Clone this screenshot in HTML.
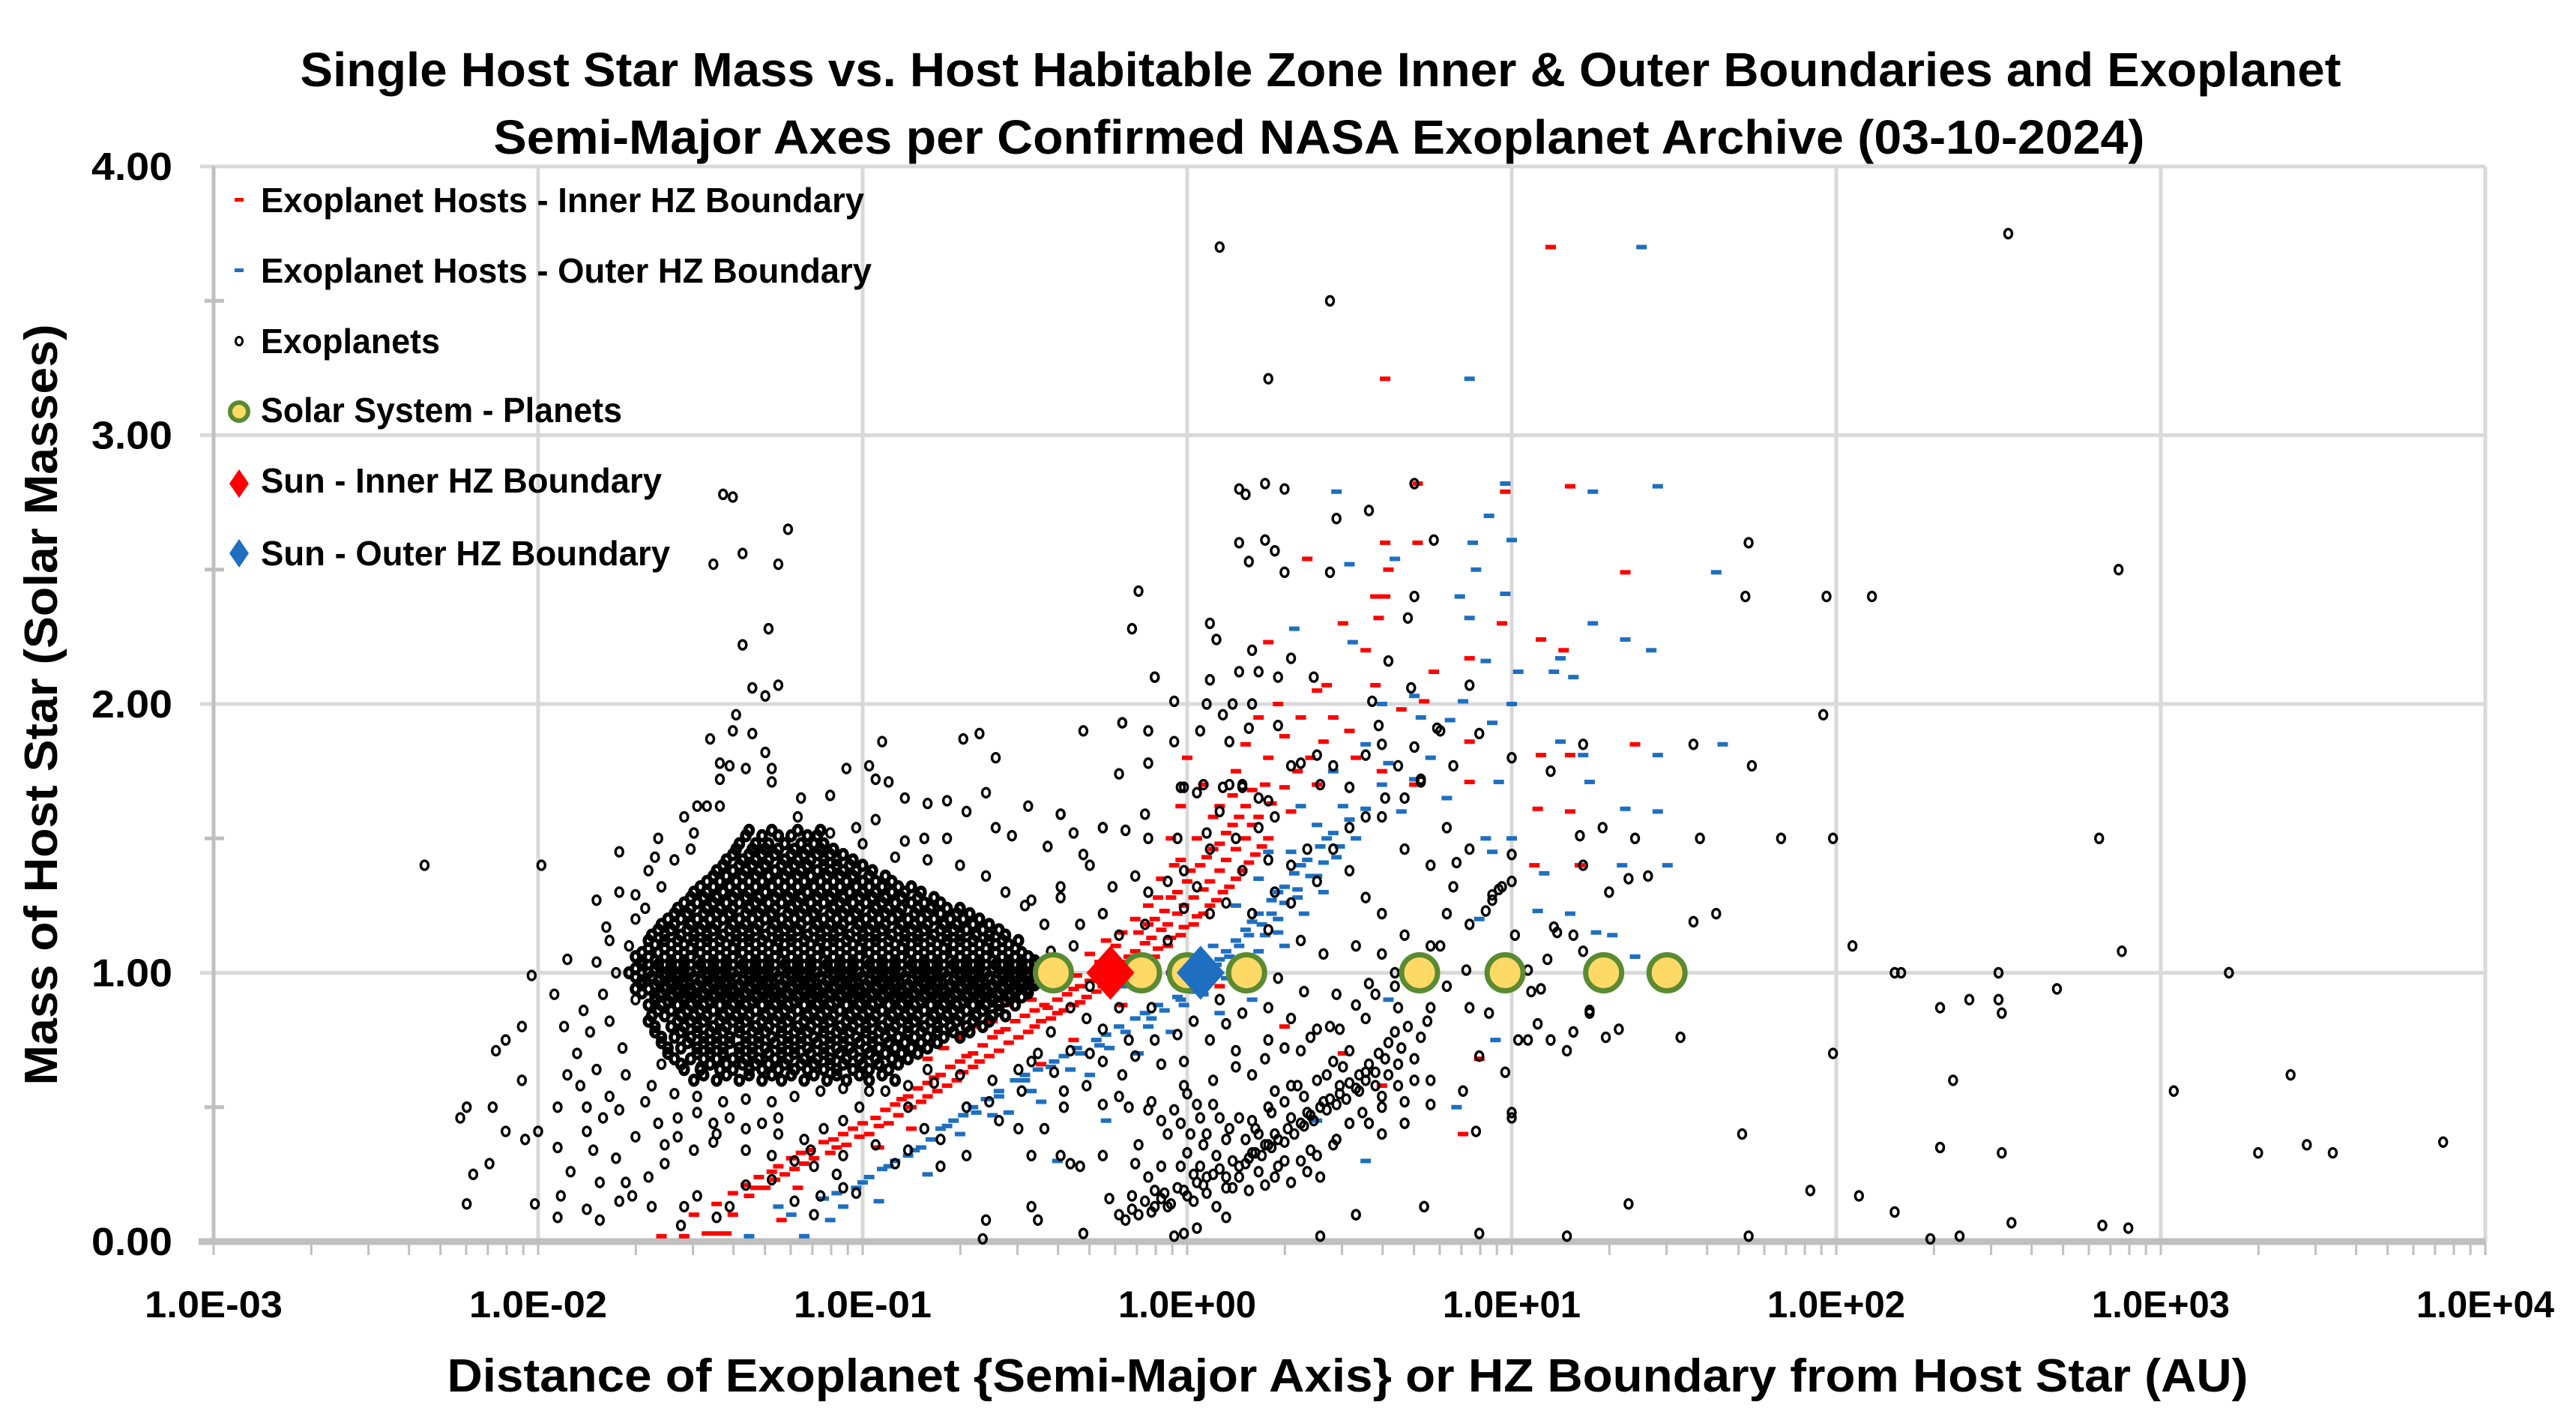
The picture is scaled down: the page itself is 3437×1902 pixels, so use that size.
<!DOCTYPE html>
<html><head><meta charset="utf-8"><style>
html,body{margin:0;padding:0;background:#fff;width:3437px;height:1902px;overflow:hidden}
svg text{font-family:"Liberation Sans",sans-serif;font-weight:bold;fill:#000}
</style></head><body>
<svg id="chart" width="3437" height="1902" viewBox="0 0 3437 1902" xmlns="http://www.w3.org/2000/svg">
<rect width="3437" height="1902" fill="#fff"/>
<g id="grid"></g>
<g id="axes"></g>
<g id="hzInner"></g>
<g id="hzOuter"></g>
<g id="exo"></g>
<g id="solar"></g>
<g id="labels"></g>
<text x="1762" y="115" font-size="64" text-anchor="middle" textLength="2723" lengthAdjust="spacingAndGlyphs">Single Host Star Mass vs. Host Habitable Zone Inner &amp; Outer Boundaries and Exoplanet</text>
<text x="1760" y="205" font-size="64" text-anchor="middle" textLength="2203" lengthAdjust="spacingAndGlyphs">Semi-Major Axes per Confirmed NASA Exoplanet Archive (03-10-2024)</text>
<text x="1798" y="1856" font-size="62" text-anchor="middle" textLength="2403" lengthAdjust="spacingAndGlyphs">Distance of Exoplanet {Semi-Major Axis} or HZ Boundary from Host Star (AU)</text>
<text transform="translate(76,940) rotate(-90)" font-size="62" text-anchor="middle" textLength="1015" lengthAdjust="spacingAndGlyphs">Mass of Host Star (Solar Masses)</text>
<g id="legend">
  <g>
    <rect x="313" y="264" width="12" height="5" fill="#ff0000"/>
    <text x="348" y="283" font-size="46" textLength="805" lengthAdjust="spacingAndGlyphs">Exoplanet Hosts - Inner HZ Boundary</text>
  </g>
  <g>
    <rect x="313" y="358" width="12" height="5" fill="#1f6fc0"/>
    <text x="348" y="377" font-size="46" textLength="815" lengthAdjust="spacingAndGlyphs">Exoplanet Hosts - Outer HZ Boundary</text>
  </g>
  <g>
    <ellipse cx="319" cy="455" rx="4.5" ry="5.5" fill="none" stroke="#000" stroke-width="3"/>
    <text x="348" y="471" font-size="46" textLength="239" lengthAdjust="spacingAndGlyphs">Exoplanets</text>
  </g>
  <g>
    <circle cx="319" cy="549" r="12" fill="#ffd966" stroke="#5a8a32" stroke-width="6"/>
    <text x="348" y="563" font-size="46" textLength="482" lengthAdjust="spacingAndGlyphs">Solar System - Planets</text>
  </g>
  <g>
    <polygon points="319,626 332,645 319,664 306,645" fill="#ff0000"/>
    <text x="348" y="657" font-size="46" textLength="535" lengthAdjust="spacingAndGlyphs">Sun - Inner HZ Boundary</text>
  </g>
  <g>
    <polygon points="319,719 332,738 319,757 306,738" fill="#1f6fc0"/>
    <text x="348" y="754" font-size="46" textLength="546" lengthAdjust="spacingAndGlyphs">Sun - Outer HZ Boundary</text>
  </g>
</g>
</svg>
<script>
// ---- data (x values are log10 of AU) ----
const xTickLabels = ["1.0E-03","1.0E-02","1.0E-01","1.0E+00","1.0E+01","1.0E+02","1.0E+03","1.0E+04"];
const xTickLogs = [-3,-2,-1,0,1,2,3,4];
const yTickLabels = ["0.00","1.00","2.00","3.00","4.00"];
const yTickValues = [0,1,2,3,4];
const solarPlanetNames = ["Mercury","Venus","Earth","Mars","Jupiter","Saturn","Uranus","Neptune"];
const solarPlanetAU = [0.387,0.723,1.0,1.524,5.2,9.54,19.2,30.1];
const solarPlanetMass = [1,1,1,1,1,1,1,1];
const sunInnerHZ = [0.58,1];
const sunOuterHZ = [1.1,1];
const exoplanetCoreRows = [
"0.60:-1.52 -1.45 -1.38 -1.31 -1.25 -1.18 -1.11 -1.05 -0.98 -0.90",
"0.64:-1.55 -1.50 -1.44 -1.40 -1.35 -1.31 -1.26 -1.21 -1.17 -1.12 -1.08 -1.03 -0.98 -0.92",
"0.68:-1.58 -1.53 -1.49 -1.45 -1.40 -1.36 -1.32 -1.27 -1.23 -1.18 -1.14 -1.10 -1.05 -1.01 -0.96 -0.91 -0.86",
"0.72:-1.60 -1.56 -1.51 -1.47 -1.43 -1.38 -1.34 -1.30 -1.25 -1.21 -1.17 -1.12 -1.08 -1.04 -0.99 -0.95 -0.90 -0.85 -0.80",
"0.76:-1.62 -1.58 -1.53 -1.49 -1.45 -1.41 -1.36 -1.32 -1.28 -1.23 -1.19 -1.15 -1.10 -1.06 -1.02 -0.97 -0.93 -0.89 -0.84 -0.80 -0.75 -0.70",
"0.80:-1.64 -1.59 -1.55 -1.51 -1.46 -1.42 -1.38 -1.33 -1.29 -1.25 -1.20 -1.16 -1.12 -1.07 -1.03 -0.99 -0.94 -0.90 -0.86 -0.81 -0.77 -0.73 -0.68 -0.63",
"0.84:-1.65 -1.61 -1.56 -1.52 -1.48 -1.43 -1.39 -1.35 -1.30 -1.26 -1.22 -1.17 -1.13 -1.09 -1.04 -1.00 -0.96 -0.91 -0.87 -0.83 -0.78 -0.74 -0.70 -0.65 -0.60 -0.56",
"0.88:-1.66 -1.62 -1.57 -1.53 -1.49 -1.44 -1.40 -1.36 -1.31 -1.27 -1.23 -1.18 -1.14 -1.10 -1.05 -1.01 -0.97 -0.92 -0.88 -0.84 -0.79 -0.75 -0.71 -0.66 -0.62 -0.58 -0.53",
"0.91:-1.64 -1.59 -1.55 -1.51 -1.46 -1.42 -1.38 -1.33 -1.29 -1.25 -1.20 -1.16 -1.12 -1.07 -1.03 -0.99 -0.94 -0.90 -0.86 -0.81 -0.77 -0.73 -0.68 -0.64 -0.60 -0.55 -0.51",
"0.94:-1.70 -1.66 -1.61 -1.57 -1.53 -1.48 -1.44 -1.40 -1.35 -1.31 -1.27 -1.22 -1.18 -1.14 -1.09 -1.05 -1.01 -0.96 -0.92 -0.88 -0.83 -0.79 -0.75 -0.70 -0.66 -0.62 -0.57 -0.53 -0.49",
"0.97:-1.68 -1.63 -1.59 -1.55 -1.50 -1.46 -1.42 -1.37 -1.33 -1.29 -1.24 -1.20 -1.16 -1.11 -1.07 -1.03 -0.98 -0.94 -0.90 -0.85 -0.81 -0.77 -0.72 -0.68 -0.64 -0.59 -0.55 -0.51 -0.47",
"1.00:-1.72 -1.66 -1.61 -1.57 -1.53 -1.48 -1.44 -1.40 -1.35 -1.31 -1.27 -1.22 -1.18 -1.14 -1.09 -1.05 -1.01 -0.96 -0.92 -0.88 -0.83 -0.79 -0.75 -0.70 -0.66 -0.62 -0.57 -0.53 -0.49 -0.45",
"1.03:-1.68 -1.63 -1.59 -1.55 -1.50 -1.46 -1.42 -1.37 -1.33 -1.29 -1.24 -1.20 -1.16 -1.11 -1.07 -1.03 -0.98 -0.94 -0.90 -0.85 -0.81 -0.77 -0.72 -0.68 -0.64 -0.59 -0.55 -0.51 -0.47",
"1.06:-1.70 -1.66 -1.61 -1.57 -1.53 -1.48 -1.44 -1.40 -1.35 -1.31 -1.27 -1.22 -1.18 -1.14 -1.09 -1.05 -1.01 -0.96 -0.92 -0.88 -0.83 -0.79 -0.75 -0.70 -0.66 -0.62 -0.57 -0.53 -0.49",
"1.09:-1.66 -1.61 -1.57 -1.53 -1.48 -1.44 -1.40 -1.35 -1.31 -1.27 -1.22 -1.18 -1.14 -1.09 -1.05 -1.01 -0.96 -0.92 -0.88 -0.83 -0.79 -0.75 -0.70 -0.66 -0.62 -0.57 -0.53",
"1.12:-1.66 -1.61 -1.57 -1.52 -1.48 -1.44 -1.39 -1.35 -1.31 -1.26 -1.22 -1.18 -1.13 -1.09 -1.05 -1.00 -0.96 -0.92 -0.87 -0.83 -0.79 -0.74 -0.70 -0.66 -0.61 -0.57 -0.52",
"1.16:-1.63 -1.59 -1.54 -1.50 -1.46 -1.41 -1.37 -1.33 -1.28 -1.24 -1.20 -1.15 -1.11 -1.07 -1.02 -0.98 -0.94 -0.89 -0.85 -0.81 -0.76 -0.72 -0.68 -0.63 -0.58",
"1.20:-1.60 -1.56 -1.51 -1.47 -1.43 -1.38 -1.34 -1.30 -1.25 -1.21 -1.17 -1.12 -1.08 -1.04 -0.99 -0.95 -0.91 -0.86 -0.82 -0.78 -0.73 -0.69 -0.64",
"1.24:-1.57 -1.53 -1.48 -1.44 -1.40 -1.35 -1.31 -1.27 -1.22 -1.18 -1.14 -1.09 -1.05 -1.01 -0.96 -0.92 -0.88 -0.83 -0.79 -0.74 -0.70",
"1.28:-1.53 -1.49 -1.45 -1.40 -1.36 -1.32 -1.27 -1.23 -1.19 -1.14 -1.10 -1.06 -1.01 -0.97 -0.93 -0.88 -0.83 -0.78",
"1.32:-1.50 -1.46 -1.41 -1.37 -1.33 -1.28 -1.24 -1.20 -1.15 -1.11 -1.07 -1.02 -0.98 -0.94 -0.89 -0.85",
"1.36:-1.46 -1.42 -1.37 -1.33 -1.29 -1.24 -1.20 -1.16 -1.11 -1.07 -1.03 -0.98 -0.93",
"1.40:-1.43 -1.38 -1.34 -1.30 -1.25 -1.21 -1.17 -1.12 -1.08 -1.04 -1.00",
"1.44:-1.40 -1.35 -1.31 -1.27 -1.22 -1.18 -1.14 -1.10 -1.06",
"1.48:-1.38 -1.33 -1.29 -1.24 -1.19 -1.15 -1.12",
"1.53:-1.35 -1.28 -1.20 -1.13"
];
const exoplanetCoreRowsB = [
"0.62:-1.49 -1.42 -1.35 -1.28 -1.22 -1.15 -1.08 -1.01 -0.94",
"0.66:-1.56 -1.47 -1.42 -1.37 -1.33 -1.29 -1.24 -1.19 -1.15 -1.10 -1.06 -1.00 -0.95 -0.89",
"0.70:-1.60 -1.51 -1.47 -1.43 -1.38 -1.34 -1.29 -1.25 -1.21 -1.16 -1.12 -1.07 -1.03 -0.98 -0.93 -0.88 -0.83",
"0.74:-1.62 -1.54 -1.49 -1.45 -1.41 -1.36 -1.32 -1.27 -1.23 -1.19 -1.14 -1.10 -1.06 -1.01 -0.97 -0.92 -0.87 -0.82 -0.77",
"0.78:-1.64 -1.56 -1.51 -1.47 -1.43 -1.38 -1.34 -1.30 -1.25 -1.21 -1.17 -1.12 -1.08 -1.04 -0.99 -0.95 -0.91 -0.86 -0.82 -0.77 -0.72 -0.67",
"0.82:-1.66 -1.57 -1.53 -1.49 -1.44 -1.40 -1.36 -1.31 -1.27 -1.23 -1.18 -1.14 -1.10 -1.05 -1.01 -0.97 -0.92 -0.88 -0.84 -0.79 -0.75 -0.71 -0.66 -0.61",
"0.86:-1.63 -1.59 -1.54 -1.50 -1.46 -1.41 -1.37 -1.33 -1.28 -1.24 -1.20 -1.15 -1.11 -1.07 -1.02 -0.98 -0.94 -0.89 -0.85 -0.81 -0.76 -0.72 -0.68 -0.63 -0.58",
"0.895:-1.64 -1.60 -1.55 -1.51 -1.47 -1.42 -1.38 -1.34 -1.29 -1.25 -1.21 -1.16 -1.12 -1.08 -1.03 -0.99 -0.95 -0.90 -0.86 -0.82 -0.77 -0.73 -0.69 -0.64 -0.60 -0.56",
"0.925:-1.68 -1.62 -1.57 -1.53 -1.49 -1.44 -1.40 -1.36 -1.31 -1.27 -1.23 -1.18 -1.14 -1.10 -1.05 -1.01 -0.97 -0.92 -0.88 -0.84 -0.79 -0.75 -0.71 -0.66 -0.62 -0.58 -0.53 -0.49",
"0.955:-1.68 -1.64 -1.59 -1.55 -1.51 -1.46 -1.42 -1.38 -1.33 -1.29 -1.25 -1.20 -1.16 -1.12 -1.07 -1.03 -0.99 -0.94 -0.90 -0.86 -0.81 -0.77 -0.73 -0.68 -0.64 -0.60 -0.55 -0.51 -0.47",
"0.985:-1.70 -1.65 -1.61 -1.57 -1.52 -1.48 -1.44 -1.39 -1.35 -1.31 -1.26 -1.22 -1.18 -1.13 -1.09 -1.05 -1.00 -0.96 -0.92 -0.87 -0.83 -0.79 -0.74 -0.70 -0.66 -0.61 -0.57 -0.53 -0.49 -0.45",
"1.015:-1.70 -1.64 -1.59 -1.55 -1.51 -1.46 -1.42 -1.38 -1.33 -1.29 -1.25 -1.20 -1.16 -1.12 -1.07 -1.03 -0.99 -0.94 -0.90 -0.86 -0.81 -0.77 -0.73 -0.68 -0.64 -0.60 -0.55 -0.51 -0.46",
"1.045:-1.68 -1.64 -1.59 -1.55 -1.51 -1.46 -1.42 -1.38 -1.33 -1.29 -1.25 -1.20 -1.16 -1.12 -1.07 -1.03 -0.99 -0.94 -0.90 -0.86 -0.81 -0.77 -0.73 -0.68 -0.64 -0.60 -0.55 -0.51 -0.47",
"1.075:-1.68 -1.63 -1.59 -1.55 -1.50 -1.46 -1.42 -1.37 -1.33 -1.29 -1.24 -1.20 -1.16 -1.11 -1.07 -1.03 -0.98 -0.94 -0.90 -0.85 -0.81 -0.77 -0.72 -0.68 -0.64 -0.59 -0.55 -0.51",
"1.105:-1.64 -1.59 -1.55 -1.50 -1.46 -1.42 -1.37 -1.33 -1.29 -1.24 -1.20 -1.16 -1.11 -1.07 -1.03 -0.98 -0.94 -0.90 -0.85 -0.81 -0.77 -0.72 -0.68 -0.64 -0.59 -0.55",
"1.14:-1.65 -1.61 -1.56 -1.52 -1.48 -1.43 -1.39 -1.35 -1.30 -1.26 -1.22 -1.17 -1.13 -1.09 -1.04 -1.00 -0.96 -0.91 -0.87 -0.83 -0.78 -0.74 -0.70 -0.65 -0.61 -0.56",
"1.18:-1.62 -1.58 -1.53 -1.49 -1.45 -1.40 -1.36 -1.32 -1.27 -1.23 -1.19 -1.14 -1.10 -1.06 -1.01 -0.97 -0.93 -0.88 -0.84 -0.80 -0.75 -0.71 -0.66 -0.61",
"1.22:-1.58 -1.54 -1.49 -1.45 -1.41 -1.36 -1.32 -1.28 -1.23 -1.19 -1.15 -1.10 -1.06 -1.02 -0.97 -0.93 -0.89 -0.84 -0.80 -0.76 -0.71 -0.67",
"1.26:-1.55 -1.51 -1.46 -1.42 -1.38 -1.33 -1.29 -1.25 -1.20 -1.16 -1.12 -1.07 -1.03 -0.99 -0.94 -0.90 -0.85 -0.81 -0.76",
"1.30:-1.52 -1.48 -1.43 -1.39 -1.35 -1.30 -1.26 -1.22 -1.17 -1.13 -1.09 -1.04 -1.00 -0.96 -0.91 -0.87 -0.82",
"1.34:-1.48 -1.44 -1.39 -1.35 -1.31 -1.26 -1.22 -1.18 -1.13 -1.09 -1.05 -1.00 -0.96 -0.91",
"1.38:-1.45 -1.40 -1.36 -1.32 -1.27 -1.23 -1.19 -1.14 -1.10 -1.06 -1.02 -0.97",
"1.42:-1.42 -1.37 -1.33 -1.29 -1.24 -1.20 -1.16 -1.12 -1.08 -1.03",
"1.46:-1.39 -1.34 -1.30 -1.26 -1.21 -1.17 -1.13 -1.09",
"1.51:-1.36 -1.31 -1.26 -1.22 -1.17 -1.14"
];
const exoplanetScatter = "-1.43,2.78 -1.40,2.77 -1.23,2.65 -1.46,2.52 -1.37,2.56 -1.26,2.52 -1.29,2.28 -1.37,2.22 -1.34,2.06 -1.30,2.03 -1.26,2.07 -1.39,1.96 -1.47,1.87 -1.40,1.90 -1.34,1.89 -0.94,1.86 -0.69,1.87 -0.64,1.89 -0.59,1.80 -1.05,1.76 -0.98,1.77 -1.44,1.78 -1.41,1.77 -1.36,1.76 -1.30,1.82 -1.28,1.76 -1.44,1.72 -1.28,1.71 -0.96,1.72 -0.92,1.71 -0.87,1.65 -0.80,1.63 -0.74,1.64 -0.68,1.60 -0.62,1.67 -0.49,1.62 -0.39,1.59 -0.32,1.90 -0.20,1.93 -0.12,1.90 -1.10,1.66 -1.19,1.65 -1.55,1.58 -1.51,1.62 -1.44,1.62 -0.96,1.57 -1.02,1.54 -0.87,1.49 -0.81,1.50 -0.74,1.50 -0.59,1.54 -0.54,1.51 -0.43,1.47 -0.26,1.54 -1.75,1.45 -1.64,1.43 -1.63,1.50 -1.53,1.46 -2.35,1.40 -1.99,1.40 -1.82,1.27 -1.70,1.29 -1.62,1.32 -1.91,1.05 -2.02,0.99 -1.79,1.17 -1.78,1.12 -2.13,0.71 -2.10,0.75 -2.05,0.80 -2.05,0.60 -2.24,0.46 -2.22,0.50 -2.14,0.50 -2.10,0.41 -2.04,0.38 -2.00,0.41 -2.20,0.25 -2.15,0.29 -2.22,0.14 -2.01,0.14 -1.93,0.17 -1.94,0.09 -1.85,0.12 -1.81,0.08 -1.94,0.50 -1.85,0.50 -1.94,0.35 -1.85,0.41 -1.80,0.46 -1.70,0.39 -1.57,0.39 -1.46,0.37 -1.61,0.29 -1.66,0.24 -1.73,0.22 -1.71,0.17 -1.65,0.13 -1.51,0.17 -1.55,0.13 -1.45,0.09 -1.56,0.06 -1.41,0.13 -1.36,0.21 -1.28,0.23 -1.21,0.15 -1.15,0.10 -1.13,0.17 -1.06,0.20 -1.02,0.18 -1.08,0.25 -1.15,0.28 -1.21,0.30 -0.96,0.36 -0.90,0.29 -0.86,0.34 -0.76,0.28 -0.68,0.32 -0.62,0.08 -0.48,0.13 -0.46,0.08 -0.36,0.29 -0.39,0.32 -0.33,0.28 -0.26,0.32 -0.16,0.29 -0.32,0.03 -0.63,0.01 -0.24,0.16 -0.17,0.17 -0.10,0.19 -0.06,0.13 -0.01,0.03 -0.04,0.02 0.03,0.05 0.09,0.13 0.12,0.09 0.06,0.18 0.12,0.20 0.19,0.19 0.24,0.21 0.27,0.24 0.32,0.22 0.16,0.24 0.02,0.25 -0.02,0.28 0.04,0.28 0.09,0.32 0.20,0.33 0.25,0.36 0.37,0.26 0.41,0.24 0.52,0.10 0.73,0.13 0.41,0.02 -0.06,0.40 0.01,0.40 0.06,0.40 0.13,0.42 0.21,0.42 0.27,0.40 0.32,0.46 0.37,0.48 0.25,0.50 0.30,0.52 0.36,0.54 0.42,0.52 0.47,0.58 0.53,0.56 0.60,0.50 0.67,0.52 0.75,0.51 0.67,0.44 0.60,0.40 0.27,0.56 0.03,0.51 0.08,0.51 -0.04,0.49 -0.18,0.50 -0.12,0.49 -0.26,0.51 -0.38,0.50 -0.44,0.42 -0.52,0.42 -0.48,0.32 -0.58,0.45 -0.68,0.50 -0.76,0.38 -0.81,0.42 -0.86,0.50 -0.78,0.59 -0.86,0.58 -0.93,0.56 -1.01,0.50 -1.06,0.45 -1.12,0.42 -1.18,0.38 -1.26,0.40 -1.31,0.44 -1.36,0.42 -1.41,0.46 -1.46,0.44 -1.51,0.48 -1.57,0.46 -1.63,0.44 -1.67,0.52 -1.75,0.49 -1.78,0.54 -1.87,0.58 -1.91,0.62 -1.82,0.64 -1.73,0.62 -1.65,0.58 -1.58,0.55 -1.51,0.54 -1.43,0.52 -1.36,0.53 -1.28,0.52 -1.21,0.54 -1.13,0.56 -1.06,0.57 -0.98,0.56 -1.26,0.46 -1.45,0.40 -1.36,0.34 -1.28,0.32 -1.16,0.34 -1.06,0.32 -1.52,0.34 -1.61,0.36 -1.76,0.31 -1.83,0.34 -1.90,0.26 -1.81,0.22 -1.75,0.15 -1.88,0.70 -1.84,0.78 -1.86,0.86 -1.80,0.92 -1.76,1.00 -1.82,1.04 -1.78,0.82 -1.74,0.72 -1.92,0.80 -1.95,0.92 -1.70,1.20 -1.75,1.30 -1.66,1.38 -1.58,1.42 -1.52,1.52 -1.48,1.62 -1.20,1.58 -1.10,1.52 -1.00,1.48 -0.90,1.43 -0.80,1.42 -0.70,1.40 -0.62,1.36 -0.56,1.30 -0.50,1.25 -0.44,1.18 -0.42,1.08 -0.40,0.98 -0.42,0.78 -0.46,0.70 -0.52,0.64 -0.60,0.60 -0.70,0.62 -0.80,0.64 -1.50,0.65 -1.62,0.66 -1.70,0.90 -1.72,1.10 -1.67,1.24 " +
"-0.48,1.27 -0.39,1.28 -0.32,1.44 -0.30,1.40 -0.39,1.32 -0.23,1.32 -0.16,1.36 -0.12,1.30 -0.06,1.34 -0.01,1.38 0.07,1.46 0.15,1.50 0.22,1.54 0.27,1.58 0.10,1.60 0.03,1.67 -0.01,1.69 0.11,1.69 0.17,1.69 0.22,1.65 0.32,1.77 0.40,1.81 0.45,1.77 0.55,1.81 0.60,1.85 0.50,1.69 0.60,1.58 0.67,1.46 0.75,1.40 0.82,1.32 0.80,1.22 0.87,1.18 0.75,1.10 0.67,1.14 0.60,1.22 0.55,1.28 0.50,1.38 0.45,1.46 0.40,1.34 0.32,1.26 0.27,1.30 0.20,1.22 0.25,1.16 0.35,1.12 0.42,1.07 0.52,1.10 0.60,1.07 0.70,0.99 0.80,0.95 0.87,0.87 0.75,0.87 0.65,0.87 0.55,0.83 0.47,0.79 0.40,0.79 0.32,0.83 0.25,0.87 0.17,0.85 0.12,0.81 0.07,0.75 0.15,0.71 0.25,0.75 0.35,0.71 0.45,0.67 0.55,0.63 0.65,0.66 0.75,0.60 0.85,0.56 0.90,0.69 0.50,0.71 0.40,0.60 0.32,0.58 0.20,0.62 -0.01,0.67 -0.08,0.66 -0.16,0.69 -0.18,0.75 -0.26,0.79 -0.31,0.83 -0.36,0.87 -0.21,0.87 -0.11,0.87 -0.26,0.67 -0.36,0.71 -0.41,0.63 -0.48,0.67 -0.01,0.58 -0.11,0.52 -0.21,0.54 -0.31,0.58 -0.38,0.56 -0.51,0.56 -0.61,0.52 -0.03,0.77 -0.18,0.99 -0.11,1.03 -0.06,1.12 -0.13,1.18 -0.21,1.14 -0.26,1.22 -0.33,1.18 0.07,1.22 0.12,1.26 -0.01,1.24 0.03,1.32 0.32,1.40 0.37,1.46 0.25,1.42 0.17,1.38 0.50,1.54 0.55,1.58 0.67,1.65 0.72,1.71 0.82,1.77 0.80,1.54 0.87,1.46 0.90,1.89 0.77,1.91 0.70,1.84 0.65,1.77 " +
"-0.15,2.42 -0.17,2.28 -0.10,2.10 -0.04,2.01 0.07,2.09 0.10,3.70 0.44,3.50 0.25,3.21 2.53,3.75 0.16,2.80 0.18,2.78 0.24,2.82 0.30,2.80 0.70,2.82 0.56,2.72 0.46,2.69 0.16,2.60 0.24,2.61 0.27,2.57 0.19,2.53 0.30,2.49 0.44,2.49 0.76,2.61 0.70,2.40 0.68,2.32 0.07,2.30 0.09,2.24 0.20,2.20 0.32,2.17 0.16,2.12 0.22,2.12 0.28,2.10 0.39,2.10 0.62,2.16 -0.10,2.10 0.06,2.00 0.14,2.00 0.20,2.00 0.11,1.96 0.57,2.01 0.69,2.06 0.87,2.07 1.73,2.60 1.72,2.40 1.97,2.40 2.11,2.40 2.87,2.50 1.96,1.96 1.74,1.77 1.56,1.85 1.22,1.85 1.12,1.75 1.00,1.80 -0.20,1.93 -0.04,1.86 0.04,1.90 0.13,1.86 0.19,1.91 0.28,1.92 -0.21,1.74 -0.12,1.78 -0.02,1.69 0.05,1.70 0.13,1.70 0.17,1.70 0.25,1.64 0.35,1.78 0.41,1.70 0.59,1.92 0.61,1.65 0.72,1.72 0.78,1.90 -0.39,1.59 -0.13,1.59 -0.35,1.52 -0.26,1.54 -0.19,1.53 -0.12,1.50 -0.03,1.50 0.06,1.52 1.21,1.51 1.28,1.54 1.38,1.50 1.58,1.50 1.83,1.50 1.99,1.50 2.81,1.50 0.83,1.41 1.00,1.44 1.22,1.40 1.30,1.30 1.36,1.35 1.42,1.36 1.56,1.19 1.63,1.22 1.00,1.34 0.94,1.29 0.97,1.32 2.05,1.10 2.88,1.08 2.18,1.00 2.20,1.00 2.50,1.00 3.21,1.00 2.32,0.87 2.41,0.90 2.50,0.90 2.51,0.85 2.68,0.94 2.36,0.60 3.04,0.56 3.40,0.62 1.71,0.40 2.32,0.35 2.51,0.33 3.30,0.33 3.45,0.36 3.53,0.33 3.87,0.37 1.92,0.19 2.07,0.17 2.18,0.11 2.54,0.07 2.82,0.06 2.90,0.05 2.29,0.01 2.38,0.02 1.73,0.02 1.36,0.14 1.17,0.02 0.90,0.03 0.73,0.13 0.52,0.10 1.99,0.70 1.52,0.76 1.29,0.76 1.33,0.79 1.19,0.78 1.24,0.85 1.08,0.81 1.12,0.75 1.17,0.71 1.02,0.75 1.05,0.75 0.93,0.85 0.98,0.63 1.00,0.48 1.00,0.46 0.89,0.41 0.86,1.01 1.05,1.01 1.06,0.93 1.09,0.94 1.11,1.05 1.14,1.15 1.19,1.14 1.13,1.17 0.92,1.23 0.94,1.27 0.96,1.31 1.01,1.14 1.22,1.08 1.24,0.86 " +
"-0.21,0.10 -0.17,0.12 -0.13,0.15 -0.10,0.13 -0.07,0.18 -0.03,0.20 0.00,0.17 0.03,0.22 0.06,0.24 0.10,0.27 0.14,0.30 0.18,0.29 0.21,0.33 0.24,0.36 0.28,0.38 0.31,0.42 0.35,0.44 0.38,0.47 0.41,0.50 0.44,0.53 0.47,0.55 0.50,0.59 0.53,0.62 0.56,0.66 0.59,0.70 0.62,0.74 0.64,0.78 0.20,0.45 0.26,0.48 0.34,0.58 0.43,0.62 0.48,0.65 0.58,0.58 0.62,0.62 0.70,0.68 0.72,0.76 0.56,0.44 0.46,0.38 0.38,0.34 0.30,0.30 -0.15,0.36 -0.08,0.45 0.00,0.55 0.08,0.60 0.15,0.65 0.24,0.68 0.30,0.72 0.38,0.76 0.44,0.80 0.52,0.88 0.58,0.92 0.64,0.95 0.70,1.05 0.78,1.10 0.10,0.90 0.18,0.95 0.28,0.98 0.36,0.93 0.46,0.92 0.56,0.96 0.64,1.00 -0.30,0.95 -0.25,1.05 -0.35,1.10 -0.20,0.62 -0.30,0.70 -0.10,0.75 0.02,0.82 0.05,0.96 -0.05,1.00 " +
"-0.19,0.08 -0.15,0.10 -0.11,0.11 -0.08,0.16 -0.05,0.14 -0.01,0.19 0.02,0.15 0.05,0.21 0.08,0.25 0.12,0.24 0.16,0.28 0.19,0.31 0.23,0.32 0.26,0.35 0.30,0.37 0.33,0.40 0.36,0.43 0.39,0.45 0.43,0.49 0.46,0.51 0.49,0.53 0.52,0.57 0.55,0.60 0.58,0.63 0.61,0.68 0.66,0.72 0.68,0.80 0.74,0.82 0.35,0.30 0.40,0.32 0.45,0.36 0.50,0.44 0.54,0.48 0.60,0.54 0.65,0.58 0.70,0.60 0.22,0.26 0.28,0.28 0.14,0.20 -0.12,0.24 -0.08,0.28 0.00,0.33 0.05,0.36 0.12,0.38 0.18,0.38 0.22,0.40 0.16,0.46 0.10,0.46 0.04,0.46 -0.02,0.44";
const innerHZPoints = "-1.62,0.02 -1.55,0.02 -1.48,0.03 -1.45,0.03 -1.52,0.10 -1.45,0.14 -1.40,0.18 -1.36,0.21 -1.32,0.24 -1.28,0.26 -1.26,0.28 -1.22,0.31 -1.19,0.33 -1.16,0.34 -1.12,0.37 -1.09,0.38 -1.06,0.40 -1.03,0.42 -1.00,0.44 -0.96,0.46 -0.93,0.49 -0.90,0.51 -0.88,0.53 -0.86,0.54 -0.83,0.57 -0.80,0.59 -0.78,0.61 -0.76,0.62 -0.73,0.65 -0.70,0.67 -0.68,0.69 -0.66,0.70 -0.63,0.73 -0.60,0.76 -0.58,0.78 -0.56,0.79 -0.53,0.82 -0.50,0.84 -0.47,0.86 -0.44,0.88 -0.43,0.87 -0.40,0.90 -0.37,0.92 -0.35,0.94 -0.33,0.95 -0.30,0.97 -0.27,0.99 -0.25,1.00 -0.23,1.01 -0.20,1.04 -0.18,1.06 -0.16,1.08 -0.13,1.11 -0.11,1.13 -0.08,1.16 -0.06,1.18 -0.03,1.22 -0.01,1.25 0.02,1.28 0.05,1.31 0.07,1.34 0.10,1.38 0.12,1.42 0.15,1.46 0.18,1.50 0.20,1.55 0.22,1.58 0.26,1.63 0.30,1.69 0.34,1.75 0.38,1.80 0.42,1.86 -1.35,0.17 -1.30,0.20 -1.24,0.25 -1.18,0.29 -1.10,0.33 -1.05,0.36 -0.98,0.40 -0.92,0.44 -0.85,0.50 -0.80,0.54 -0.74,0.58 -0.69,0.63 -0.64,0.67 -0.58,0.71 -0.52,0.76 -0.47,0.80 -0.42,0.83 -0.38,0.86 -0.33,0.89 -0.28,0.93 -0.24,0.96 -0.20,0.98 -0.15,1.02 -0.10,1.06 -0.06,1.10 -0.02,1.14 0.02,1.18 0.05,1.22 0.09,1.27 0.13,1.32 0.17,1.38 0.21,1.44 0.25,1.50 -0.15,1.15 -0.10,1.20 -0.05,1.28 0.00,1.34 0.04,1.40 0.08,1.46 0.12,1.52 0.16,1.58 0.10,1.62 0.05,1.70 0.00,1.80 0.15,1.75 0.20,1.68 0.25,1.80 0.30,1.88 0.35,1.95 0.22,1.95 -0.05,1.50 -0.02,1.62 0.28,2.00 0.40,2.05 0.45,1.95 0.50,1.90 -0.55,0.88 -0.65,0.80 -0.75,0.72 -0.30,1.07 -0.20,1.15 -1.40,0.10 -1.20,0.20 -0.95,0.35 -0.85,0.42 -1.25,0.08 -1.42,0.03 -0.25,1.12 -0.12,1.25 -0.08,1.35 0.03,1.50 0.08,1.58 -0.02,1.42 0.14,1.66 0.18,1.85 1.12,3.70 0.61,3.21 1.18,2.81 1.35,2.49 0.98,2.79 0.71,2.82 0.61,2.60 0.71,2.60 0.37,2.54 0.62,2.50 0.58,2.40 0.61,2.40 0.97,2.30 0.59,2.32 0.25,2.23 1.09,2.24 1.16,2.20 0.87,2.17 0.76,2.12 0.43,2.07 0.58,2.07 0.73,2.01 0.87,1.86 1.09,1.81 1.18,1.81 0.87,1.71 1.08,1.61 1.18,1.60 1.07,1.40 1.21,1.40 1.38,1.85 0.55,2.20 0.48,2.30 0.66,1.98 0.52,1.80 0.60,1.75 0.70,1.70 0.32,1.60 0.40,1.70 -0.35,0.75 -0.45,0.66 -0.20,0.88 0.10,0.95 0.30,0.80 0.48,0.70 0.60,0.58 0.85,0.40 0.90,0.68 " +
"-1.33,0.20 -1.27,0.23 -1.21,0.27 -1.15,0.31 -1.08,0.35 -1.01,0.39 -0.95,0.43 -0.89,0.47 -0.82,0.52 -0.77,0.56 -0.71,0.60 -0.66,0.65 -0.61,0.69 -0.55,0.74 -0.49,0.78 -0.45,0.82 -0.40,0.85 -0.35,0.88 -0.31,0.91 -0.26,0.95 -0.22,0.98 -0.18,1.01 -0.13,1.05 -0.09,1.09 -0.05,1.13 -0.01,1.17 0.03,1.21 0.07,1.25 0.11,1.30 0.15,1.35 0.19,1.41 0.23,1.47 -0.12,1.18 -0.07,1.23 -0.03,1.30 0.01,1.38 0.06,1.43 0.10,1.48 0.14,1.55 0.18,1.62 0.24,1.70 -0.04,1.40 -0.09,1.28 -0.16,1.20 -0.22,1.10 -0.27,1.04 -0.34,0.99 -0.40,0.95 -0.48,0.90 -0.60,0.82 -0.70,0.76 -0.80,0.68";
const outerHZPoints = "-1.35,0.02 -1.18,0.02 -1.26,0.13 -1.06,0.13 -0.98,0.24 -0.86,0.32 -0.76,0.42 -0.66,0.50 -0.53,0.60 -0.41,0.67 -0.28,0.75 -0.16,0.83 -0.03,0.91 0.07,1.01 0.15,1.12 0.22,1.22 0.30,1.32 0.37,1.42 0.45,1.52 0.55,1.61 -1.22,0.10 -1.12,0.16 -1.02,0.20 -0.94,0.27 -0.90,0.30 -0.82,0.35 -0.79,0.38 -0.72,0.45 -0.69,0.47 -0.62,0.53 -0.58,0.56 -0.50,0.62 -0.46,0.64 -0.38,0.69 -0.34,0.72 -0.25,0.77 -0.21,0.80 -0.13,0.85 -0.09,0.88 0.00,0.94 0.03,0.97 0.10,1.05 0.12,1.08 0.18,1.16 0.20,1.19 0.26,1.27 0.28,1.30 0.33,1.37 0.35,1.40 0.41,1.47 0.43,1.50 0.50,1.57 -0.70,0.40 -0.60,0.47 -0.48,0.56 -0.36,0.64 -0.24,0.72 -0.12,0.80 -0.01,0.88 0.05,0.92 0.12,0.98 0.18,1.05 0.24,1.14 0.28,1.20 0.34,1.28 0.40,1.36 0.46,1.43 0.52,1.50 -0.20,0.95 -0.10,1.00 0.00,1.05 0.08,1.10 0.30,1.10 0.20,0.90 0.10,0.85 -0.05,0.78 0.15,1.25 0.22,1.35 0.32,1.45 0.40,1.55 0.48,1.62 0.60,1.70 0.35,1.62 0.25,1.45 0.45,1.75 0.55,1.85 0.62,1.78 0.70,1.72 -0.15,0.70 -0.30,0.62 -0.45,0.52 -0.55,0.48 -0.80,0.25 -0.95,0.15 -1.10,0.08 1.40,3.70 0.87,3.21 0.46,2.79 0.98,2.82 1.25,2.79 1.45,2.81 0.93,2.70 1.00,2.61 0.88,2.60 0.89,2.50 0.64,2.54 0.50,2.52 1.63,2.49 0.84,2.40 0.98,2.41 0.87,2.32 1.25,2.30 1.35,2.24 1.43,2.20 0.33,2.28 0.51,2.23 1.15,2.17 0.92,2.16 1.02,2.12 1.13,2.12 1.19,2.10 1.00,2.00 0.85,2.01 0.70,2.03 0.94,1.93 0.81,1.94 1.15,1.86 1.22,1.81 1.45,1.81 1.35,1.61 1.45,1.60 1.65,1.85 0.96,1.71 1.24,1.71 0.92,1.50 1.00,1.50 0.94,1.45 1.10,1.37 1.34,1.40 1.48,1.40 1.08,1.23 1.18,1.22 1.26,1.15 1.31,1.14 1.38,1.06 0.83,0.50 0.75,1.80 0.80,1.65 0.66,1.60 0.72,1.95 0.60,2.00 0.90,1.20 0.70,1.00 0.95,0.75 0.55,0.30 0.40,0.45 0.62,0.90 -0.40,0.30 -0.25,0.45 " +
"-0.07,0.86 -0.02,0.90 0.02,0.93 0.05,0.99 0.09,1.03 0.13,1.06 0.16,1.10 0.19,1.14 0.23,1.18 0.26,1.22 0.30,1.26 0.34,1.31 0.38,1.36 0.42,1.41 0.47,1.47 0.06,0.96 0.14,1.02 0.22,1.08 0.28,1.15 0.36,1.22 0.42,1.30 -0.11,0.83 -0.19,0.78 -0.27,0.73 -0.33,0.70 -0.42,0.65 -0.50,0.60 -0.58,0.54 -0.65,0.48 -0.74,0.43 -0.84,0.34 -0.92,0.28 -1.00,0.22 -1.08,0.18";

// ---- axis functions ----
const X0 = 285, DEC = 433, Y0 = 1656, YU = 358.5;
function xPos(lg){ return X0 + (lg + 3) * DEC; }
function yPos(m){ return Y0 - m * YU; }
function parsePairs(s){ return s.trim().split(/\s+/).map(p => p.split(',').map(Number)); }
const NS = 'http://www.w3.org/2000/svg';
function mk(tag, attrs, parent){ const e = document.createElementNS(NS, tag); for (const k in attrs) e.setAttribute(k, attrs[k]); parent.appendChild(e); return e; }

// gridlines & axes
const grid = document.getElementById('grid');
yTickValues.forEach(v => {
  if (v === 0) return;
  const l = mk('line', {x1: X0 - 18, x2: xPos(4), y1: yPos(v), y2: yPos(v), stroke: '#d9d9d9', 'stroke-width': 5}, grid);
  
  
});
xTickLogs.forEach(v => {
  if (v === -3) return;
  const l = mk('line', {x1: xPos(v), x2: xPos(v), y1: yPos(4), y2: Y0, stroke: '#d9d9d9', 'stroke-width': 5}, grid);
  
  
});
const axes = document.getElementById('axes');
const ya = mk('line', {x1: X0, x2: X0, y1: yPos(4), y2: Y0, stroke: '#bfbfbf', 'stroke-width': 5}, axes);


[0.5,1.5,2.5,3.5].forEach(v => {
  const t = mk('line', {x1: X0 - 12, x2: X0 + 14, y1: yPos(v), y2: yPos(v), stroke: '#bfbfbf', 'stroke-width': 5}, axes);
  
  
});
for (let d = -3; d < 4; d++) {
  for (let k = 2; k <= 9; k++) {
    const x = xPos(d + Math.log10(k));
    const t = mk('line', {x1: x, x2: x, y1: Y0, y2: Y0 + 18, stroke: '#bfbfbf', 'stroke-width': 3}, axes);
    
    
  }
}
xTickLogs.forEach(v => {
  const t = mk('line', {x1: xPos(v), x2: xPos(v), y1: Y0, y2: Y0 + 18, stroke: '#bfbfbf', 'stroke-width': 3}, axes);
  
  
});
const xa = mk('line', {x1: X0 - 20, x2: xPos(4), y1: Y0, y2: Y0, stroke: '#bfbfbf', 'stroke-width': 9}, axes);



// tick labels
const labels = document.getElementById('labels');
xTickLabels.forEach((s, i) => {
  const t = mk('text', {x: xPos(xTickLogs[i]), y: 1757, 'font-size': 50, 'text-anchor': 'middle', textLength: 184, lengthAdjust: 'spacingAndGlyphs'}, labels);
  t.textContent = s;
  
  
});
yTickLabels.forEach((s, i) => {
  const t = mk('text', {x: 230, y: yPos(yTickValues[i]) + 18, 'font-size': 52, 'text-anchor': 'end', textLength: 108, lengthAdjust: 'spacingAndGlyphs'}, labels);
  t.textContent = s;
  
  
});

// HZ dashes
function drawDashes(str, gid, color, name){
  const g = document.getElementById(gid);
  parsePairs(str).forEach(([lx, m]) => {
    const r = mk('rect', {x: xPos(lx) - 7, y: yPos(m) - 3, width: 14, height: 6, fill: color}, g);
    
    
  });
}
drawDashes(outerHZPoints, 'hzOuter', '#1f6fc0', 'outer-hz-point');
drawDashes(innerHZPoints, 'hzInner', '#ff0000', 'inner-hz-point');

// exoplanets
const exo = document.getElementById('exo');
function drawExo(lx, m, sw){
  const c = mk('ellipse', {cx: xPos(lx), cy: yPos(m), rx: 5, ry: 6, fill: 'none', stroke: '#000', 'stroke-width': sw}, exo);
  
  
}
exoplanetCoreRows.concat(exoplanetCoreRowsB).forEach(row => {
  const [m, xs] = row.split(':');
  xs.trim().split(/\s+/).forEach(v => drawExo(Number(v), Number(m), 5.5));
});
parsePairs(exoplanetScatter).forEach(([lx, m]) => drawExo(lx, m, 3.4));

// solar system
const solar = document.getElementById('solar');
solarPlanetAU.forEach((a, i) => {
  const c = mk('circle', {cx: xPos(Math.log10(a)), cy: yPos(solarPlanetMass[i]), r: 24, fill: '#ffd966', stroke: '#5a8a32', 'stroke-width': 7}, solar);
  
  
});
function diamond(a, m, color, name){
  const x = xPos(Math.log10(a)), y = yPos(m);
  const p = mk('polygon', {points: `${x},${y-36} ${x+32},${y} ${x},${y+36} ${x-32},${y}`, fill: color}, solar);
  
  
}
diamond(sunInnerHZ[0], sunInnerHZ[1], '#ff0000', 'sun-inner-hz-marker');
diamond(sunOuterHZ[0], sunOuterHZ[1], '#1f6fc0', 'sun-outer-hz-marker');
</script>
</body></html>
